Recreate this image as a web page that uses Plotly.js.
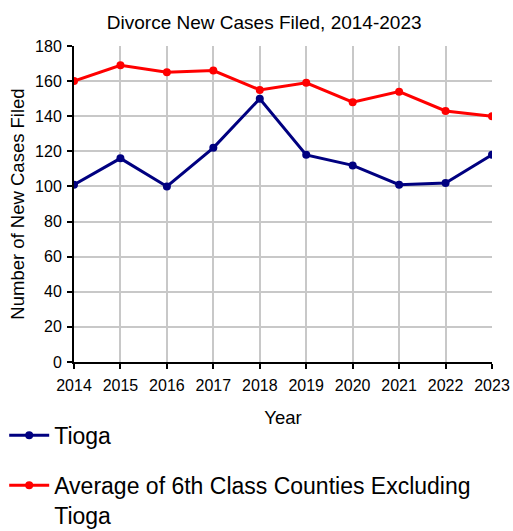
<!DOCTYPE html>
<html>
<head>
<meta charset="utf-8">
<script src="https://cdn.plot.ly/plotly-3.0.1.min.js"></script>
<style>html,body{margin:0;padding:0;background:#fff}#chart{width:513px;height:531px}</style>
</head>
<body>
<div id="chart"></div>
<script>
const years = [2014, 2015, 2016, 2017, 2018, 2019, 2020, 2021, 2022, 2023];
const tioga = [101, 116, 100, 122, 150, 118, 112, 101, 102, 118];
const avgOther = [160, 169, 165, 166, 155, 159, 148, 154, 143, 140];
const seriesNames = ["Tioga", "Average of 6th Class Counties Excluding<br>Tioga"];
const yTicks = [0, 20, 40, 60, 80, 100, 120, 140, 160, 180];

const font = "Liberation Sans, Arial, sans-serif";
const traces = [
  {x: years, y: tioga, name: seriesNames[0], mode: "lines+markers", legendgroup: "a",
   line: {color: "#000080", width: 3}, marker: {color: "#000080", size: 8}},
  {x: years, y: avgOther, name: seriesNames[1], mode: "lines+markers", legendgroup: "b",
   line: {color: "#ff0000", width: 3}, marker: {color: "#ff0000", size: 8}}
];
const layout = {
  width: 513, height: 531,
  margin: {l: 74, r: 21, t: 46, b: 169, autoexpand: false},
  paper_bgcolor: "#fff", plot_bgcolor: "#fff",
  font: {family: font, color: "#000", size: 16},
  title: {text: "Divorce New Cases Filed, 2014-2023", x: 0.515, xanchor: "center", y: 0.97, yanchor: "top",
          font: {size: 19, family: font}},
  xaxis: {range: [2014, 2023], tickvals: years, ticktext: years.map(String), automargin: false,
          showgrid: true, gridcolor: "#c8c8c8", gridwidth: 2, zeroline: false,
          showline: true, linecolor: "#000", linewidth: 2, ticks: "outside", ticklen: 5, tickwidth: 2, tickcolor: "#000",
          ticklabelstandoff: 3,
          title: {text: "Year", font: {size: 18.5}, standoff: 18}, tickfont: {size: 16}},
  yaxis: {range: [0, 180], tickvals: yTicks, automargin: false,
          showgrid: true, gridcolor: "#c8c8c8", gridwidth: 2, zeroline: false,
          showline: true, linecolor: "#000", linewidth: 2, ticks: "outside", ticklen: 5, tickwidth: 2, tickcolor: "#000",
          ticklabelstandoff: 2,
          title: {text: "Number of New Cases Filed", font: {size: 18.5}, standoff: 6}, tickfont: {size: 16}},
  showlegend: true,
  legend: {x: -0.167, xanchor: "left", y: -0.164, yanchor: "top", itemwidth: 40,
           orientation: "v", valign: "top", traceorder: "grouped", tracegroupgap: 17,
           font: {size: 23}, bgcolor: "rgba(0,0,0,0)"}
};
Plotly.newPlot("chart", traces, layout, {staticPlot: true});
</script>
</body>
</html>
